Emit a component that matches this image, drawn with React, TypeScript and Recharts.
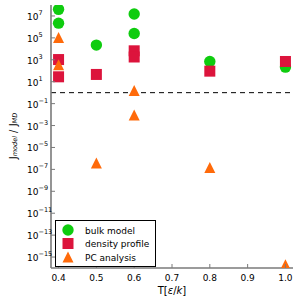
import { ScatterChart, Scatter, XAxis, YAxis, ReferenceLine, Legend } from 'recharts';

// temperature values (x) and J_model / J_MD ratios (y) for each method
const bulkT = [0.4, 0.4, 0.5, 0.6, 0.6, 0.8, 1.0];
const bulkJ = [4e7, 2.2e6, 2.2e4, 1.5e7, 2.5e5, 700, 215];

const densityT = [0.4, 0.4, 0.5, 0.6, 0.6, 0.8, 1.0];
const densityJ = [1050, 28, 46, 6600, 1800, 92, 700];

const pcT = [0.4, 0.4, 0.5, 0.6, 0.6, 0.8, 1.0];
const pcJ = [1.07e5, 350, 3.9e-7, 1.6, 0.009, 1.5e-7, 2e-16];

const xTicks = [0.4, 0.5, 0.6, 0.7, 0.8, 0.9, 1.0];
const yTicks = [1e-15, 1e-13, 1e-11, 1e-9, 1e-7, 1e-5, 1e-3, 1e-1, 1e1, 1e3, 1e5, 1e7];

const FONT = '"DejaVu Sans", sans-serif';
const FRAME = '#7a7a7a';
const GREEN = '#0fcc0f';
const RED = '#dc143c';
const ORANGE = '#ff6a0a';

const toPoints = (xs: number[], ys: number[]) => xs.map((x, i) => ({ x, y: ys[i] }));

const series = [
  { name: 'bulk model', data: toPoints(bulkT, bulkJ), color: GREEN, marker: 'circle' },
  { name: 'density profile', data: toPoints(densityT, densityJ), color: RED, marker: 'square' },
  { name: 'PC analysis', data: toPoints(pcT, pcJ), color: ORANGE, marker: 'triangle' },
];

function marker(kind: string, cx: number, cy: number, color: string) {
  if (kind === 'circle') return <circle cx={cx} cy={cy} r={5.7} fill={color} />;
  if (kind === 'square') return <rect x={cx - 5.5} y={cy - 5.5} width={11} height={11} fill={color} />;
  return <polygon points={`${cx},${cy - 5.5} ${cx - 5.5},${cy + 5.5} ${cx + 5.5},${cy + 5.5}`} fill={color} />;
}

const BottomTick = (props: any) => {
  const { x, y, payload } = props;
  return (
    <g>
      <line x1={x} y1={y} x2={x} y2={y - 4} stroke={FRAME} />
      <text x={x} y={y + 13} textAnchor="middle" fontSize={9} fontFamily={FONT} fill="#000">
        {payload.value.toFixed(1)}
      </text>
    </g>
  );
};

const TopTick = (props: any) => {
  const { x, y } = props;
  return <line x1={x} y1={y} x2={x} y2={y + 4} stroke={FRAME} />;
};

const LeftTick = (props: any) => {
  const { x, y, payload } = props;
  const exp = Math.round(Math.log10(payload.value));
  const expText = exp < 0 ? '\u2212' + Math.abs(exp) : String(exp);
  return (
    <g>
      <line x1={x} y1={y} x2={x + 4} y2={y} stroke={FRAME} />
      <text x={27} y={y + 4} fontSize={9} fontFamily={FONT} fill="#000">
        <tspan>10</tspan>
        <tspan dy={-5} fontSize={6.5}>{expText}</tspan>
      </text>
    </g>
  );
};

const RightTick = (props: any) => {
  const { x, y } = props;
  return <line x1={x} y1={y} x2={x - 4} y2={y} stroke={FRAME} />;
};

const LegendBox = () => (
  <svg width={101} height={47} style={{ display: 'block' }}>
    <rect x={0.5} y={0.5} width={100} height={46} fill="#fff" stroke="#000" />
    {series.map((s, i) => (
      <g key={s.name}>
        {marker(s.marker, 13, 10 + i * 13.5, s.color)}
        <text x={30} y={13.5 + i * 13.5} fontSize={9} fontFamily={FONT} fill="#000">
          {s.name}
        </text>
      </g>
    ))}
  </svg>
);

export default function App() {
  return (
    <div style={{ position: 'absolute', left: 0, top: 0, fontFamily: FONT }}>
      <ScatterChart width={300} height={300} margin={{ top: 5, right: 7, bottom: 0, left: 0 }}>
        <XAxis
          type="number"
          dataKey="x"
          domain={[0.38, 1.02]}
          ticks={xTicks}
          interval={0}
          allowDataOverflow
          height={32}
          tickLine={false}
          tickSize={0}
          tickMargin={0}
          axisLine={{ stroke: FRAME, strokeWidth: 1.6 }}
          tick={BottomTick}
          label={{
            position: 'insideBottom',
            content: () => (
              <text x={172} y={294} textAnchor="middle" fontSize={10} fontFamily={FONT} fill="#000">
                T[<tspan fontStyle="italic">ε</tspan>/<tspan fontStyle="italic">k</tspan>]
              </text>
            ),
          }}
        />
        <XAxis
          xAxisId="top"
          orientation="top"
          type="number"
          dataKey="x"
          domain={[0.38, 1.02]}
          ticks={xTicks}
          interval={0}
          allowDataOverflow
          height={0}
          tickLine={false}
          tickSize={0}
          tickMargin={0}
          axisLine={{ stroke: FRAME, strokeWidth: 1.6 }}
          tick={TopTick}
        />
        <YAxis
          type="number"
          dataKey="y"
          scale="log"
          domain={[1e-16, 1e8]}
          ticks={yTicks}
          interval={0}
          allowDataOverflow
          width={51}
          tickLine={false}
          tickSize={0}
          tickMargin={0}
          axisLine={{ stroke: FRAME, strokeWidth: 1.6 }}
          tick={LeftTick}
          label={{
            position: 'insideLeft',
            content: () => (
              <text
                x={13}
                y={136}
                transform="rotate(-90 13 136)"
                textAnchor="middle"
                dominantBaseline="central"
                fontSize={10}
                fontFamily={FONT}
                fill="#000"
              >
                J<tspan fontSize={6.5} fontStyle="italic" dy={2}>model</tspan>
                <tspan dy={-2}> / J</tspan>
                <tspan fontSize={6.5} fontStyle="italic" dy={2}>MD</tspan>
              </text>
            ),
          }}
        />
        <YAxis
          yAxisId="right"
          orientation="right"
          type="number"
          dataKey="y"
          scale="log"
          domain={[1e-16, 1e8]}
          ticks={yTicks}
          interval={0}
          allowDataOverflow
          width={0}
          tickLine={false}
          tickSize={0}
          tickMargin={0}
          axisLine={{ stroke: FRAME, strokeWidth: 1.6 }}
          tick={RightTick}
        />
        <ReferenceLine y={1} stroke="#000" strokeWidth={1} strokeDasharray="5 4" />
        {series.map((s) => (
          <Scatter
            key={s.name}
            name={s.name}
            data={s.data}
            fill={s.color}
            isAnimationActive={false}
            shape={(p: any) => marker(s.marker, p.cx, p.cy, s.color)}
          />
        ))}
        <Legend
          layout="horizontal"
          verticalAlign="middle"
          align="center"
          width={101}
          height={47}
          wrapperStyle={{ left: 55, top: 220, width: 101, height: 47 }}
          content={LegendBox}
        />
      </ScatterChart>
    </div>
  );
}
